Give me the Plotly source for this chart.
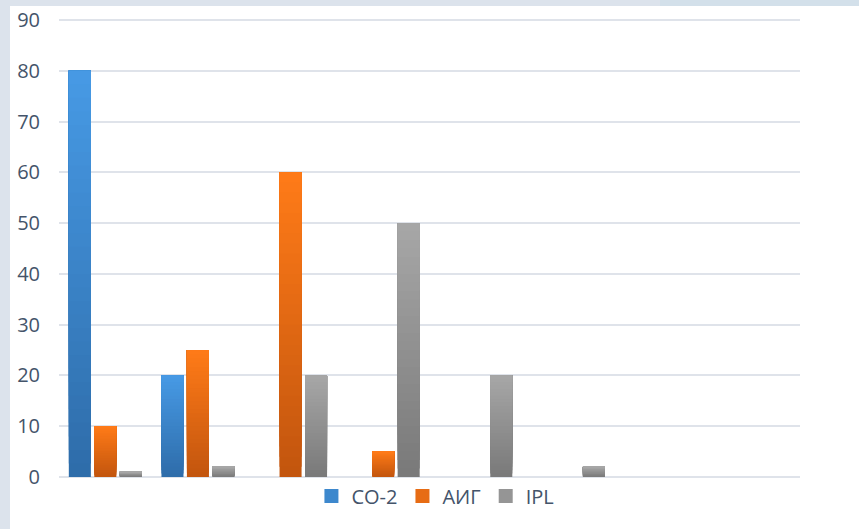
import plotly.graph_objects as go

# Data
categories = ["1", "2", "3", "4", "5", "6", "7", "8"]
series_names = ["CO-2", "АИГ", "IPL"]
co2_values = [80, 20, 0, 0, 0, 0, None, None]
aig_values = [10, 25, 60, 5, 0, 0, None, None]
ipl_values = [1, 2, 20, 50, 20, 2, None, None]
y_ticks = [0, 10, 20, 30, 40, 50, 60, 70, 80, 90]

# Gradient colours per series: (bottom, top)
gradients = {
    "CO-2": ((0x2E, 0x6C, 0xA9), (0x47, 0x9A, 0xE5)),
    "АИГ": ((0xC2, 0x55, 0x0E), (0xFF, 0x7B, 0x18)),
    "IPL": ((0x79, 0x79, 0x79), (0xA7, 0xA7, 0xA7)),
}
N_STEPS = 30

W, H = 859, 529
ML, MR, MT, MB = 59, 59, 18, 52
PW = W - ML - MR
PH = H - MT - MB
Y_MAX = 90.4  # a little headroom so the 90 gridline is kept


def mix(c0, c1, t):
    return "rgb(%d,%d,%d)" % tuple(round(a + (b - a) * t) for a, b in zip(c0, c1))


fig = go.Figure()

for name, values in zip(series_names, [co2_values, aig_values, ipl_values]):
    bottom, top = gradients[name]
    for k in range(N_STEPS):
        t = (k + 0.5) / N_STEPS
        # each layer runs from its step up to the bar top; later layers cover earlier ones
        bases = [None if v is None else v * k / N_STEPS for v in values]
        heights = [None if v is None else v - v * k / N_STEPS for v in values]
        fig.add_trace(go.Bar(
            x=categories,
            y=heights,
            base=bases,
            name=name,
            offsetgroup=name,
            legendgroup=name,
            showlegend=False,
            marker=dict(color=mix(bottom, top, t), line=dict(width=0)),
            hoverinfo="skip",
        ))

# legend keys: larger square swatches in each series' mid colour
for name in series_names:
    bottom, top = gradients[name]
    fig.add_trace(go.Scatter(
        x=[None], y=[None], mode="markers", name=name, legendgroup=name,
        marker=dict(symbol="square", size=14, color=mix(bottom, top, 0.6)),
        showlegend=True, hoverinfo="skip",
    ))


def px_x(p):
    return (p - ML) / PW


def px_y(p):
    return (H - MB - p) / PH


frame = "#dce3ec"
shapes = [
    # white sheet over a light frame
    dict(type="rect", xref="paper", yref="paper", layer="below",
         x0=px_x(10), x1=px_x(W + 5), y0=px_y(H + 5), y1=px_y(6),
         fillcolor="white", line=dict(width=0)),
    # soft blue texture along the top-right edge
    dict(type="rect", xref="paper", yref="paper", layer="below",
         x0=px_x(660), x1=px_x(W + 5), y0=px_y(6), y1=px_y(-2),
         fillcolor="#d3e0ea", line=dict(width=0)),
]

fig.update_layout(
    width=W, height=H,
    margin=dict(l=ML, r=MR, t=MT, b=MB, pad=0, autoexpand=False),
    paper_bgcolor=frame,
    plot_bgcolor="white",
    barmode="group",
    bargap=0.175,
    bargroupgap=0.135,
    font=dict(family="Open Sans, sans-serif", size=20, color="#44546a"),
    shapes=shapes,
    showlegend=True,
    legend=dict(
        orientation="h", x=0.508, xanchor="center",
        yref="container", y=(H - 496) / H, yanchor="middle",
        bgcolor="rgba(0,0,0,0)", font=dict(size=20, color="#44546a"),
        itemwidth=30, traceorder="normal",
    ),
    xaxis=dict(
        type="category", showticklabels=False, showgrid=False, zeroline=False,
        showline=False, ticks="",
    ),
    yaxis=dict(
        range=[0, Y_MAX], tickvals=y_ticks, showgrid=True, gridcolor="#dfe3ea",
        gridwidth=2, zeroline=True, zerolinecolor="#dfe3ea", zerolinewidth=2,
        showline=False, ticks="", ticklabelstandoff=18,
        tickfont=dict(size=20, color="#44546a"),
    ),
)

fig.write_html("out.html")
